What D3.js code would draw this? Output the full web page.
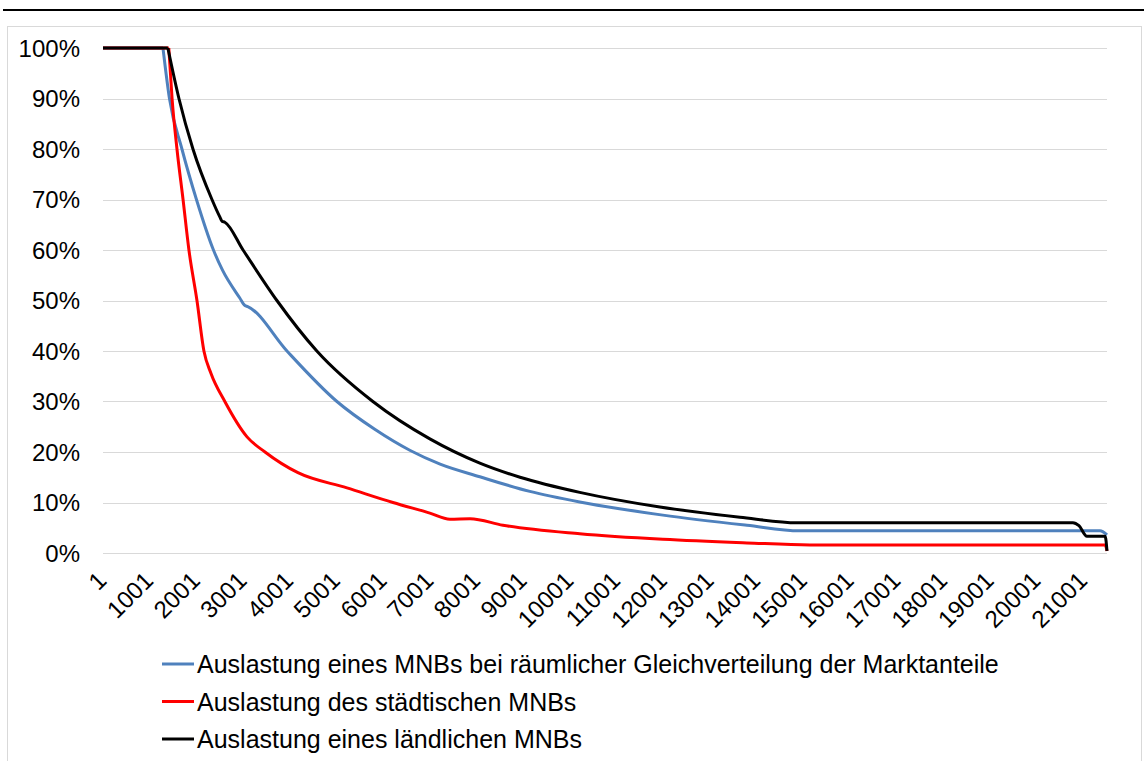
<!DOCTYPE html>
<html><head><meta charset="utf-8">
<script src="https://cdn.jsdelivr.net/npm/d3@7"></script>
<style>
html,body{margin:0;padding:0;background:#fff;}
svg{display:block;font-family:"Liberation Sans",Arial,sans-serif;}
</style></head>
<body><svg id="c" width="1144" height="761"></svg>
<script>
// ---- data ----
const xTickLabels = [1,1001,2001,3001,4001,5001,6001,7001,8001,9001,10001,11001,12001,13001,14001,15001,16001,17001,18001,19001,20001,21001];
const yTicks = [0,10,20,30,40,50,60,70,80,90,100];
const nPoints = 21500;

const blueIdx = [1,1285,1424,1691,2002,2366,2560,2930,3040,3100,3940,5010,5820,6580,7220,8070,9140,10210,11990,13790,14920,21350,21500];
const blueVal = [100,100,90,80,70,60,56,50.5,49,48.8,40,30,24.5,20.3,17.6,15.1,12.2,10.1,7.5,5.5,4.4,4.4,3.6];

const redIdx = [1,1410,1480,1585,1715,1841,2013,2162,2312,2610,3085,3470,4175,5225,6210,7000,7430,7860,8565,10210,11990,13790,15140,21460,21500];
const redVal = [100,100,90,80,70,60,50,40,35.6,30,23,20,15.9,12.9,10,7.9,6.7,6.8,5.5,3.8,2.7,2.0,1.6,1.6,0.4];

const blackIdx = [1,1390,1627,1927,2334,2505,2550,2610,3000,3725,4580,5780,7000,8070,8930,10210,11925,13640,14860,20770,20900,21070,21460,21500];
const blackVal = [100,100,90,80,70,66.5,65.7,65.5,60,50,40,30,22.6,17.8,15,12,9.1,7.1,6.0,6.0,5.4,3.3,3.3,0.4];

const seriesNames = [
  "Auslastung eines MNBs bei räumlicher Gleichverteilung der Marktanteile",
  "Auslastung des städtischen MNBs",
  "Auslastung eines ländlichen MNBs"
];
const seriesColors = ["#4F81BD","#FF0000","#000000"];

// ---- drawing ----
const svg = d3.select("#c");
const x = d3.scaleLinear().domain([1,nPoints]).range([103,1107]);
const y = d3.scaleLinear().domain([0,100]).range([553,48]);

// top rule
svg.append("line").attr("x1",3).attr("x2",1144).attr("y1",10).attr("y2",10)
  .attr("stroke","#000").attr("stroke-width",2);
// chart border
svg.append("rect").attr("x",7.5).attr("y",26.5).attr("width",1134).attr("height",760)
  .attr("fill","none").attr("stroke","#d9d9d9").attr("stroke-width",1);

// gridlines
svg.append("g").selectAll("line").data(yTicks).join("line")
  .attr("x1",103).attr("x2",1107)
  .attr("y1",d=>Math.round(y(d))+0.5).attr("y2",d=>Math.round(y(d))+0.5)
  .attr("stroke","#d9d9d9").attr("stroke-width",1.2);

// y axis labels
svg.append("g").selectAll("text").data(yTicks).join("text")
  .attr("x",80).attr("y",d=>y(d)).attr("dy","0.36em")
  .attr("text-anchor","end").attr("font-size",24).attr("fill","#000")
  .text(d=>d+"%");

// x axis labels
svg.append("g").selectAll("text").data(xTickLabels).join("text")
  .attr("transform",d=>`translate(${x(d)+5},${582}) rotate(-45)`)
  .attr("text-anchor","end").attr("font-size",24).attr("fill","#000")
  .text(d=>d);

const lineLin = d3.line().x(d=>x(d[0])).y(d=>y(d[1]));
const lineSmooth = d3.line().x(d=>x(d[0])).y(d=>y(d[1])).curve(d3.curveMonotoneX);
const series = [
  d3.zip(blueIdx, blueVal),
  d3.zip(redIdx, redVal),
  d3.zip(blackIdx, blackVal)
];
// flat start (linear) then smooth decay from the corner point
const g = svg.append("g");
series.forEach((s,i)=>{
  g.append("path").attr("d",lineLin(s.slice(0,2))).attr("fill","none")
    .attr("stroke",seriesColors[i]).attr("stroke-width",3);
  g.append("path").attr("d",lineSmooth(s.slice(1))).attr("fill","none")
    .attr("stroke",seriesColors[i]).attr("stroke-width",3)
    .attr("stroke-linejoin","round");
});

// legend
const lg = svg.append("g").selectAll("g").data(seriesNames).join("g")
  .attr("transform",(d,i)=>`translate(162,${664+i*37.5})`);
lg.append("line").attr("x1",0).attr("x2",32).attr("y1",0).attr("y2",0)
  .attr("stroke",(d,i)=>seriesColors[i]).attr("stroke-width",3);
lg.append("text").attr("x",35).attr("y",0).attr("dy","0.36em")
  .attr("font-size",25).attr("fill","#000").text(d=>d);
</script></body></html>
